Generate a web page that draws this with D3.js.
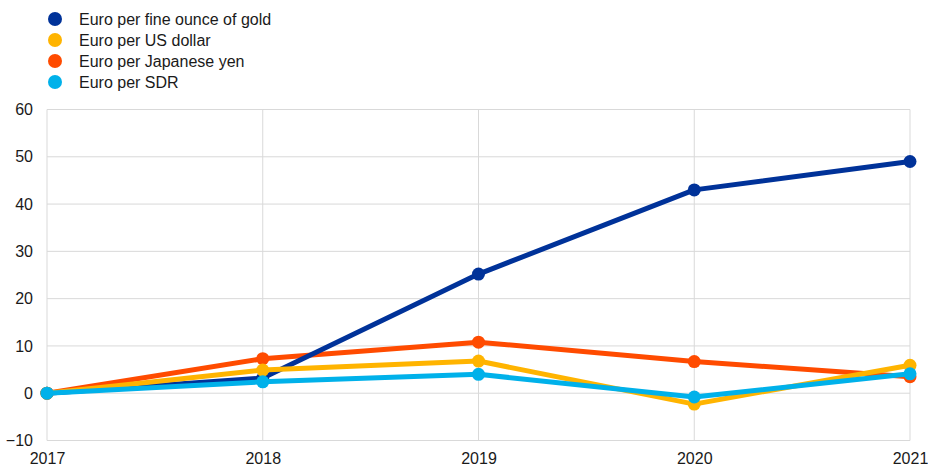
<!DOCTYPE html>
<html>
<head>
<meta charset="utf-8">
<script src="https://cdn.jsdelivr.net/npm/d3@7"></script>
<style>
    body { margin: 0; background: #fff; }
    svg text { font-family: "Liberation Sans", Arial, sans-serif; fill: #1a1a1a; }
</style>
</head>
<body>
<svg id="chart" width="928" height="468"></svg>
<script>
// data
var years = [2017, 2018, 2019, 2020, 2021];
var yTicks = [-10, 0, 10, 20, 30, 40, 50, 60];
var seriesNames = ["Euro per fine ounce of gold", "Euro per US dollar", "Euro per Japanese yen", "Euro per SDR"];
var seriesColors = ["#003299", "#ffb400", "#ff4b00", "#00b1ea"];
var gold = [0, 3.2, 25.2, 43.0, 49.0];
var usd = [0, 4.9, 6.8, -2.3, 5.9];
var jpy = [0, 7.3, 10.8, 6.7, 3.5];
var sdr = [0, 2.4, 4.0, -0.8, 4.1];

var seriesValues = [gold, usd, jpy, sdr];
// paint order: yen underneath, SDR on top
var drawOrder = [2, 0, 1, 3];

var svg = d3.select("#chart");
// note: "top" is taken by window.top, so use plot* names
var plotLeft = 47, plotRight = 910, plotTop = 109.5, plotBottom = 440.5;

var x = d3.scaleLinear().domain([2017, 2021]).range([plotLeft, plotRight]);
var y = d3.scaleLinear().domain([-10, 60]).range([plotBottom, plotTop]);

// grid
var grid = svg.append("g");
grid.selectAll("line.h")
    .data(yTicks)
    .enter().append("line")
    .attr("x1", plotLeft).attr("x2", plotRight)
    .attr("y1", function (d) { return y(d); })
    .attr("y2", function (d) { return y(d); })
    .attr("stroke", "#d9d9d9").attr("stroke-width", 1);
grid.selectAll("line.v")
    .data(years)
    .enter().append("line")
    .attr("x1", function (d) { return x(d); })
    .attr("x2", function (d) { return x(d); })
    .attr("y1", plotTop).attr("y2", plotBottom)
    .attr("stroke", "#d9d9d9").attr("stroke-width", 1);

// axes
var yAxis = d3.axisLeft(y).tickValues(yTicks).tickSize(0).tickPadding(14);
svg.append("g")
    .attr("transform", "translate(" + plotLeft + ",0)")
    .call(yAxis)
    .call(function (g) { g.select(".domain").remove(); })
    .selectAll("text")
    .style("font-size", "16px");

var xAxis = d3.axisBottom(x).tickValues(years).tickFormat(d3.format("d")).tickSize(0).tickPadding(12);
svg.append("g")
    .attr("transform", "translate(0," + plotBottom + ")")
    .call(xAxis)
    .call(function (g) { g.select(".domain").remove(); })
    .selectAll("text")
    .style("font-size", "16px");

// lines + markers
var line = d3.line()
    .x(function (d, i) { return x(years[i]); })
    .y(function (d) { return y(d); });

drawOrder.forEach(function (s) {
    var g = svg.append("g");
    g.append("path")
        .datum(seriesValues[s])
        .attr("d", line)
        .attr("fill", "none")
        .attr("stroke", seriesColors[s])
        .attr("stroke-width", 5)
        .attr("stroke-linejoin", "round");
    g.selectAll("circle")
        .data(seriesValues[s])
        .enter().append("circle")
        .attr("cx", function (d, i) { return x(years[i]); })
        .attr("cy", function (d) { return y(d); })
        .attr("r", 6.5)
        .attr("fill", seriesColors[s]);
});

// legend
var legend = svg.append("g");
var items = legend.selectAll("g")
    .data(seriesNames)
    .enter().append("g")
    .attr("transform", function (d, i) { return "translate(55," + (19 + i * 21) + ")"; });
items.append("circle")
    .attr("r", 7)
    .attr("fill", function (d, i) { return seriesColors[i]; });
items.append("text")
    .attr("x", 24)
    .attr("dy", "0.35em")
    .style("font-size", "16px")
    .text(function (d) { return d; });
</script>
</body>
</html>
